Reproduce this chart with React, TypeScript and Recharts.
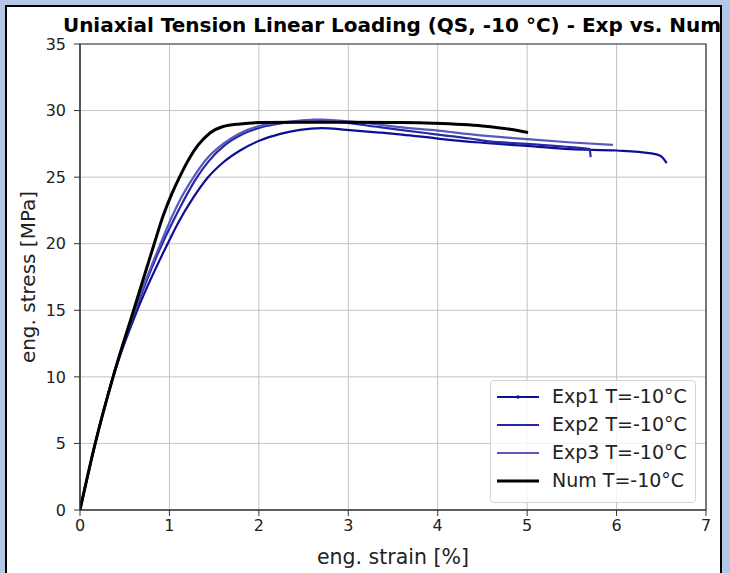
import { LineChart, Line, XAxis, YAxis, CartesianGrid, ReferenceArea } from 'recharts';

// eng. strain [%] / eng. stress [MPa]
const exp1Strain = [0, 0.17, 0.37, 0.64, 0.98, 1.1, 1.27, 1.42, 1.6, 1.79, 2.01, 2.24, 2.46, 2.7, 2.98, 3.35, 3.6, 4.0, 4.47, 5.0, 5.48, 6.0, 6.37, 6.49, 6.56];
const exp1Stress = [0, 5, 10, 15, 20, 21.6, 23.5, 24.9, 26.1, 27.0, 27.75, 28.25, 28.55, 28.68, 28.55, 28.35, 28.2, 27.9, 27.6, 27.35, 27.1, 27.0, 26.8, 26.6, 26.05];

const exp2Strain = [0, 0.17, 0.37, 0.62, 0.92, 1.02, 1.14, 1.29, 1.44, 1.62, 1.81, 2.03, 2.26, 2.48, 2.62, 2.9, 3.35, 3.58, 4.0, 4.36, 4.55, 5.0, 5.4, 5.7, 5.71];
const exp2Stress = [0, 5, 10, 15, 20, 21.4, 23.0, 24.8, 26.2, 27.4, 28.2, 28.75, 29.05, 29.22, 29.3, 29.15, 28.75, 28.55, 28.2, 27.9, 27.7, 27.5, 27.3, 27.1, 26.5];

const exp3Strain = [0, 0.17, 0.37, 0.61, 0.9, 1.0, 1.12, 1.27, 1.42, 1.6, 1.79, 2.01, 2.24, 2.46, 2.7, 2.9, 3.35, 3.58, 4.0, 4.4, 5.0, 5.5, 5.96];
const exp3Stress = [0, 5, 10, 15, 20, 21.6, 23.3, 25.0, 26.4, 27.5, 28.3, 28.85, 29.1, 29.25, 29.32, 29.25, 28.95, 28.75, 28.5, 28.2, 27.85, 27.6, 27.42];

const numStrain = [0, 0.17, 0.37, 0.6, 0.83, 0.93, 1.03, 1.12, 1.23, 1.32, 1.45, 1.6, 1.79, 2.01, 2.46, 3.0, 3.58, 3.95, 4.5, 4.81, 5.01];
const numStress = [0, 5, 10, 15, 20, 22.1, 23.8, 25.1, 26.5, 27.4, 28.3, 28.8, 29.0, 29.1, 29.12, 29.12, 29.1, 29.05, 28.85, 28.6, 28.35];

const xTicks = [0, 1, 2, 3, 4, 5, 6, 7];
const yTicks = [0, 5, 10, 15, 20, 25, 30, 35];

const seriesNames = ['Exp1 T=-10°C', 'Exp2 T=-10°C', 'Exp3 T=-10°C', 'Num T=-10°C'];
const seriesColors = ['#0e0e96', '#2828a6', '#5858be', '#000000'];
const seriesWidths = [2.2, 2.2, 2.2, 3];

const toPoints = (xs: number[], ys: number[]) => xs.map((x, i) => ({ strain: x, stress: ys[i] }));

const seriesData = [
  toPoints(exp1Strain, exp1Stress),
  toPoints(exp2Strain, exp2Stress),
  toPoints(exp3Strain, exp3Stress),
  toPoints(numStrain, numStress),
];

const FONT = '"DejaVu Sans", sans-serif';
const tickStyle = { fill: '#222', fontSize: 16, fontFamily: FONT };

function LegendBox() {
  return (
    <div
      style={{
        position: 'absolute',
        left: 490,
        top: 380,
        width: 206,
        height: 123,
        boxSizing: 'border-box',
        border: '1px solid #d6d6d6',
        borderRadius: 4,
        background: 'rgba(255,255,255,0.8)',
        paddingTop: 2,
        fontFamily: FONT,
        fontSize: 19,
        color: '#222',
      }}
    >
      {seriesNames.map((name, i) => (
        <div key={name} style={{ position: 'relative', height: 28 }}>
          <svg width={42} height={10} style={{ position: 'absolute', left: 6, top: 9 }}>
            <line x1={0} x2={42} y1={5} y2={5} stroke={seriesColors[i]} strokeWidth={seriesWidths[i]} />
            {i === 0 && <circle cx={21} cy={5} r={1.8} fill={seriesColors[i]} />}
          </svg>
          <span style={{ position: 'absolute', left: 61, top: 2, whiteSpace: 'nowrap' }}>{name}</span>
        </div>
      ))}
    </div>
  );
}

export default function App() {
  return (
    <div style={{ position: 'absolute', left: 0, top: 0, width: 730, height: 573, background: '#b4c7e7', overflow: 'hidden' }}>
      <div
        style={{
          position: 'absolute',
          left: 5,
          top: 5,
          width: 717,
          height: 600,
          boxSizing: 'border-box',
          border: '2px solid #000',
          background: '#fff',
        }}
      />
      <div
        style={{
          position: 'absolute',
          left: 0,
          width: 784,
          top: 13,
          textAlign: 'center',
          fontFamily: FONT,
          fontWeight: 'bold',
          fontSize: 20,
          color: '#000',
          whiteSpace: 'nowrap',
        }}
      >
        Uniaxial Tension Linear Loading (QS, -10 °C) - Exp vs. Num
      </div>
      <div style={{ position: 'absolute', left: 0, top: 0 }}>
        <LineChart width={730} height={573} margin={{ top: 44, right: 24, bottom: 0, left: 0 }}>
          <CartesianGrid stroke="#c4c4c4" strokeWidth={1} />
          <XAxis
            type="number"
            dataKey="strain"
            domain={[0, 7]}
            ticks={xTicks}
            allowDataOverflow
            height={63}
            stroke="#333"
            tickSize={6}
            tickMargin={4}
            tick={tickStyle}
            label={{ value: 'eng. strain [%]', position: 'insideBottom', offset: 9, style: { fill: '#222', fontSize: 20.5, fontFamily: FONT } }}
          />
          <YAxis
            type="number"
            domain={[0, 35]}
            ticks={yTicks}
            allowDataOverflow
            width={80}
            stroke="#333"
            tickSize={6}
            tickMargin={8}
            tick={tickStyle}
            label={{ value: 'eng. stress [MPa]', angle: -90, position: 'insideLeft', offset: 28, style: { textAnchor: 'middle', fill: '#222', fontSize: 20, fontFamily: FONT } }}
          />
          <ReferenceArea x1={0} x2={7} y1={0} y2={35} fill="none" stroke="#333" strokeWidth={1.2} />
          {seriesData.map((pts, i) => (
            <Line
              key={seriesNames[i]}
              data={pts}
              dataKey="stress"
              type="monotone"
              stroke={seriesColors[i]}
              strokeWidth={seriesWidths[i]}
              dot={false}
              activeDot={false}
              isAnimationActive={false}
            />
          ))}
        </LineChart>
      </div>
      <LegendBox />
    </div>
  );
}
